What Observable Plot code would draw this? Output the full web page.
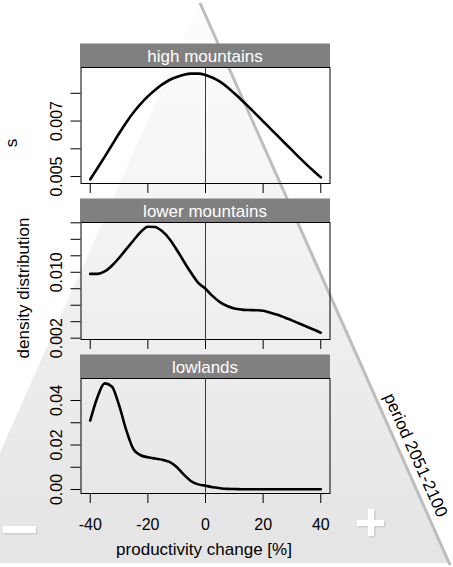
<!DOCTYPE html>
<html>
<head>
<meta charset="utf-8">
<script src="https://cdn.jsdelivr.net/npm/d3@7"></script>
<script src="https://cdn.jsdelivr.net/npm/@observablehq/plot@0.6"></script>
<style>
  html, body { margin: 0; padding: 0; background: #ffffff; }
  #chart { position: relative; width: 453px; height: 567px; overflow: hidden; font-family: "Liberation Sans", Arial, Helvetica, sans-serif; }
  #chart > svg, #chart > figure { position: absolute; left: 0; top: 0; margin: 0; }
</style>
</head>
<body>
<div id="chart"></div>
<script>
// ---- data ----
const productivity = [-40, -37.5, -35, -32.5, -30, -27.5, -25, -22.5, -20, -17.5, -15, -12.5, -10, -7.5, -5, -2.5,
  0, 2.5, 5, 7.5, 10, 12.5, 15, 17.5, 20, 22.5, 25, 27.5, 30, 32.5, 35, 37.5, 40];

const highMountains = [0.00490, 0.00530, 0.00571, 0.00613, 0.00655, 0.00695, 0.00731, 0.00762, 0.00789, 0.00812,
  0.00832, 0.00848, 0.00859, 0.00867, 0.00871, 0.00871, 0.00866, 0.00856, 0.00842, 0.00823, 0.00800, 0.00776,
  0.00751, 0.00725, 0.00699, 0.00673, 0.00647, 0.00621, 0.00595, 0.00569, 0.00544, 0.00520, 0.00497];

const lowerMountains = [0.00980, 0.00981, 0.01010, 0.01080, 0.01173, 0.01281, 0.01386, 0.01488, 0.01553, 0.01550,
  0.01497, 0.01404, 0.01274, 0.01131, 0.00993, 0.00870, 0.00800, 0.00710, 0.00638, 0.00590, 0.00560, 0.00547,
  0.00542, 0.00539, 0.00532, 0.00510, 0.00484, 0.00450, 0.00416, 0.00378, 0.00342, 0.00306, 0.00266];

const lowlands = [0.0310, 0.0415, 0.0477, 0.0463, 0.0379, 0.0267, 0.0181, 0.0154, 0.0145, 0.0139, 0.0134, 0.0124,
  0.0101, 0.0067, 0.0037, 0.0023, 0.0017, 0.0010, 0.0006, 0.0003, 0.0002, 0.0001, 0.0001, 0.0001, 0.0001, 0.0001,
  0.0001, 0.0001, 0.0001, 0.0001, 0.0001, 0.0001, 0.0001];

const panelNames = ["high mountains", "lower mountains", "lowlands"];
const xTicks = [-40, -20, 0, 20, 40];
const yTicksHigh = [0.005, 0.006, 0.007, 0.008];
const yLabelsHigh = [[0.005, "0.005"], [0.007, "0.007"]];
const yTicksLower = [0.002, 0.004, 0.006, 0.008, 0.010, 0.012, 0.014, 0.016];
const yLabelsLower = [[0.002, "0.002"], [0.010, "0.010"]];
const yTicksLow = [0.00, 0.01, 0.02, 0.03, 0.04];
const yLabelsLow = [[0.00, "0.00"], [0.02, "0.02"], [0.04, "0.04"]];
const xTitle = "productivity change [%]";
const yTitle = "density distribution";
const periodLabel = "period 2051-2100";

// ---- layout ----
const W = 453, H = 567;
const FONT = '"Liberation Sans", Arial, Helvetica, sans-serif';
const boxLeft = 80.5, boxRight = 329.5;
const panels = [
  {name: panelNames[0], values: highMountains, domain: [0.00475, 0.00893], ticks: yTicksHigh, labels: yLabelsHigh, top: 67, bottom: 183, showX: false},
  {name: panelNames[1], values: lowerMountains, domain: [0.00184, 0.01604], ticks: yTicksLower, labels: yLabelsLower, top: 222, bottom: 339, showX: false},
  {name: panelNames[2], values: lowlands, domain: [-0.0018, 0.0499], ticks: yTicksLow, labels: yLabelsLow, top: 378, bottom: 493, showX: true}
];

const chart = document.getElementById("chart");

// ---- background decoration (triangle, signs, titles) ----
const bg = d3.select(chart).append("svg").attr("width", W).attr("height", H);
const grad = bg.append("defs").append("linearGradient").attr("id", "tri").attr("x1", 0).attr("y1", 0).attr("x2", 0).attr("y2", 1);
grad.append("stop").attr("offset", "0%").attr("stop-color", "#fdfdfd");
grad.append("stop").attr("offset", "100%").attr("stop-color", "#e4e4e4");
const apex = [200, 3], baseY = 563, slope = 0.445;
bg.append("path")
  .attr("d", `M${apex[0]},${apex[1]} L${apex[0] + slope * (baseY - apex[1])},${baseY} L${apex[0] - slope * (baseY - apex[1])},${baseY} Z`)
  .attr("fill", "url(#tri)");
bg.append("line")
  .attr("x1", apex[0]).attr("y1", apex[1])
  .attr("x2", apex[0] + slope * (baseY + 2 - apex[1])).attr("y2", baseY + 2)
  .attr("stroke", "#bdbdbd").attr("stroke-width", 3);
// minus sign
bg.append("rect").attr("x", 4.5).attr("y", 527.5).attr("width", 33).attr("height", 7).attr("fill", "#cfcfcf");
bg.append("rect").attr("x", 3).attr("y", 526).attr("width", 33).attr("height", 7).attr("fill", "#ffffff");
// plus sign
bg.append("rect").attr("x", 358.5).attr("y", 521.5).attr("width", 27).attr("height", 6).attr("fill", "#cfcfcf");
bg.append("rect").attr("x", 369.5).attr("y", 510.5).attr("width", 6).attr("height", 27).attr("fill", "#cfcfcf");
bg.append("rect").attr("x", 357).attr("y", 520).attr("width", 27).attr("height", 6).attr("fill", "#ffffff");
bg.append("rect").attr("x", 368).attr("y", 509).attr("width", 6).attr("height", 27).attr("fill", "#ffffff");
// period label along the right edge
bg.append("text").text(periodLabel)
  .attr("transform", "translate(416,455) rotate(66)")
  .attr("text-anchor", "middle").attr("dy", "0.35em")
  .attr("font-family", FONT).attr("font-size", 17).attr("fill", "#000");
// letter at the left edge
bg.append("text").text("s")
  .attr("transform", "translate(17,143) rotate(-90)")
  .attr("text-anchor", "middle")
  .attr("font-family", FONT).attr("font-size", 17).attr("fill", "#000");
// axis titles
bg.append("text").text(yTitle)
  .attr("transform", "translate(29,288) rotate(-90)")
  .attr("text-anchor", "middle")
  .attr("font-family", FONT).attr("font-size", 17).attr("fill", "#000");
bg.append("text").text(xTitle)
  .attr("x", 204).attr("y", 555)
  .attr("text-anchor", "middle")
  .attr("font-family", FONT).attr("font-size", 17).attr("fill", "#000");

// ---- panels drawn with Plot ----
for (const p of panels) {
  const data = productivity.map((x, i) => ({x, y: p.values[i]}));
  const labelData = p.labels.map(([v, t]) => ({v, t}));
  const svg = Plot.plot({
    width: W, height: H,
    marginLeft: boxLeft, marginRight: W - boxRight,
    marginTop: p.top, marginBottom: H - p.bottom,
    style: {background: "transparent", fontFamily: FONT, fontSize: "16px", color: "black", overflow: "visible"},
    x: {domain: [-43.2, 43.2], ticks: xTicks, tickSize: 10, tickPadding: 15,
        tickFormat: p.showX ? (d => String(d)) : (() => ""), label: null},
    y: {domain: p.domain, ticks: p.ticks, tickSize: 10, tickFormat: () => "", label: null},
    marks: [
      Plot.ruleX([0], {stroke: "#3a3a3a", strokeWidth: 1}),
      Plot.frame({stroke: "black", strokeWidth: 1}),
      Plot.line(data, {x: "x", y: "y", stroke: "black", strokeWidth: 2.6, curve: "monotone-x"}),
      Plot.text(labelData, {y: "v", text: "t", frameAnchor: "left", textAnchor: "middle", lineAnchor: "middle",
        dx: -24, rotate: -90, fontSize: 16, fill: "black"})
    ]
  });
  chart.appendChild(svg);
}

// ---- strips on top ----
const fg = d3.select(chart).append("svg").attr("width", W).attr("height", H).style("pointer-events", "none");
for (const p of panels) {
  fg.append("rect").attr("x", 80).attr("y", p.top - 23.5).attr("width", 250).attr("height", 23.5).attr("fill", "#808080");
  fg.append("text").text(p.name)
    .attr("x", 205).attr("y", p.top - 5)
    .attr("text-anchor", "middle")
    .attr("font-family", FONT).attr("font-size", 17).attr("fill", "#ffffff");
}
</script>
</body>
</html>
